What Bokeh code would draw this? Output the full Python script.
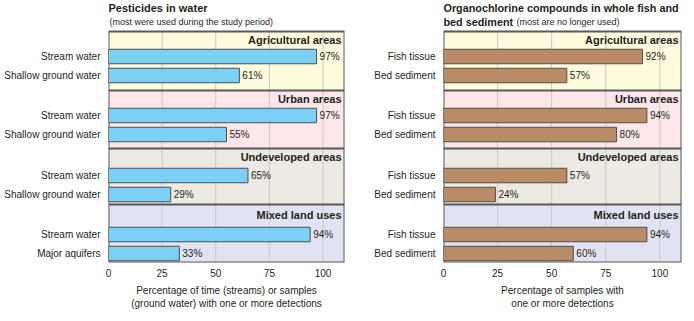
from bokeh.plotting import figure
from bokeh.layouts import row
from bokeh.models import Range1d, FixedTicker
from bokeh.embed import file_html
from bokeh.resources import INLINE
from bokeh.core.properties import value

# ---- data ----
groups = ["Agricultural areas", "Urban areas", "Undeveloped areas", "Mixed land uses"]
water_labels = ["Stream water", "Shallow ground water",
                "Stream water", "Shallow ground water",
                "Stream water", "Shallow ground water",
                "Stream water", "Major aquifers"]
water_values = [97, 61, 97, 55, 65, 29, 94, 33]
fish_labels = ["Fish tissue", "Bed sediment"] * 4
fish_values = [92, 57, 94, 80, 57, 24, 94, 60]
x_ticks = [0, 25, 50, 75, 100]

# ---- style ----
FONT = "Liberation Sans"
TXT = "#231f20"
DARK = "#58595b"
bg_colors = ["#FFFBDC", "#FDE7EA", "#ECEAE3", "#E1E3F2"]
sec_bounds = [31, 90, 148, 204, 262]


def bar_center(i):
    g, k = divmod(i, 2)
    return 56 + round(59.3 * g) + 19 * k


def make_panel(labels, values, color, left_b, right_b, frame_w, xlabel):
    p = figure(frame_width=frame_w, frame_height=262,
               x_range=Range1d(0, 110), y_range=Range1d(262, 0),
               output_backend="svg", toolbar_location=None,
               min_border_left=left_b, min_border_right=right_b,
               min_border_top=0, min_border_bottom=59)
    p.background_fill_color = "white"
    p.border_fill_color = "white"
    p.xgrid.visible = False
    p.ygrid.visible = False
    p.outline_line_color = None

    # section backgrounds
    p.quad(left=[0] * 4, right=[110] * 4, top=sec_bounds[:4], bottom=sec_bounds[1:],
           fill_color=bg_colors, line_color=None)
    # grid lines
    gx = [t for t in x_ticks if t > 0]
    p.segment(x0=gx, x1=gx, y0=[sec_bounds[0]] * len(gx), y1=[sec_bounds[-1]] * len(gx),
              line_color="#c8c8c8", line_width=1)
    # separators
    p.segment(x0=[0] * 3, x1=[110] * 3, y0=sec_bounds[1:4], y1=sec_bounds[1:4],
              line_color=DARK, line_width=2)
    # frame around the data area
    p.quad(left=0, right=110, top=sec_bounds[0], bottom=sec_bounds[-1],
           fill_color=None, line_color=DARK, line_width=2)

    centers = [bar_center(i) for i in range(len(values))]
    p.hbar(y=centers, left=0, right=values, height=14.5,
           fill_color=color, line_color="#4d4d4d", line_width=1)
    p.text(x=values, y=centers, text=[f"{v}%" for v in values], x_offset=3,
           text_baseline="middle", text_align="left",
           text_font=value(FONT), text_font_size="10px", text_color=TXT)

    hy = [sec_bounds[g] + 8.5 + (2 if g == 3 else 0) for g in range(4)]
    p.text(x=[110] * 4, y=hy, text=groups, x_offset=-3,
           text_align="right", text_baseline="middle",
           text_font=value(FONT), text_font_size="11px", text_font_style="bold",
           text_color=TXT)

    # y axis labels
    p.yaxis.ticker = FixedTicker(ticks=centers)
    p.yaxis.major_label_overrides = {c: l for c, l in zip(centers, labels)}
    p.yaxis.axis_line_color = None
    p.yaxis.major_tick_line_color = None
    p.yaxis.minor_tick_line_color = None
    p.yaxis.major_tick_out = 0
    p.yaxis.major_tick_in = 0
    p.yaxis.major_label_text_font = FONT
    p.yaxis.major_label_text_font_size = "10px"
    p.yaxis.major_label_text_color = TXT
    p.yaxis.major_label_standoff = 8

    # x axis
    p.xaxis.ticker = FixedTicker(ticks=x_ticks)
    p.xaxis.axis_line_color = None
    p.xaxis.major_tick_line_color = None
    p.xaxis.minor_tick_line_color = None
    p.xaxis.major_tick_out = 0
    p.xaxis.major_tick_in = 0
    p.xaxis.major_label_text_font = FONT
    p.xaxis.major_label_text_font_size = "10px"
    p.xaxis.major_label_text_color = TXT
    p.xaxis.major_label_standoff = 6
    p.xaxis.axis_label = xlabel
    p.xaxis.axis_label_text_font = FONT
    p.xaxis.axis_label_text_font_size = "10px"
    p.xaxis.axis_label_text_font_style = "normal"
    p.xaxis.axis_label_text_color = TXT
    p.xaxis.axis_label_standoff = 5
    return p


def title_text(p, x, y, text, size, bold, x_offset=0):
    p.text(x=[x], y=[y], text=[text], x_offset=x_offset,
           text_align="left", text_baseline="middle",
           text_font=value(FONT), text_font_size=size,
           text_font_style="bold" if bold else "normal", text_color=TXT)


p1 = make_panel(water_labels, water_values, "#7DD0F5", 108, 3, 236,
                "Percentage of time (streams) or samples\n(ground water) with one or more detections")
p2 = make_panel(fish_labels, fish_values, "#B98B66", 96, 13, 238,
                "Percentage of samples with\none or more detections")

title_text(p1, 0, 7, "Pesticides in water", "11px", True)
title_text(p1, 0, 21, "(most were used during the study period)", "9px", False, 1)
title_text(p2, 0, 7, "Organochlorine compounds in whole fish and", "10.8px", True)
title_text(p2, 0, 21, "bed sediment", "10.8px", True)
title_text(p2, 0, 21, "(most are no longer used)", "9px", False, 73)

layout = row(p1, p2)
open("out.html", "w").write(file_html(layout, INLINE))
